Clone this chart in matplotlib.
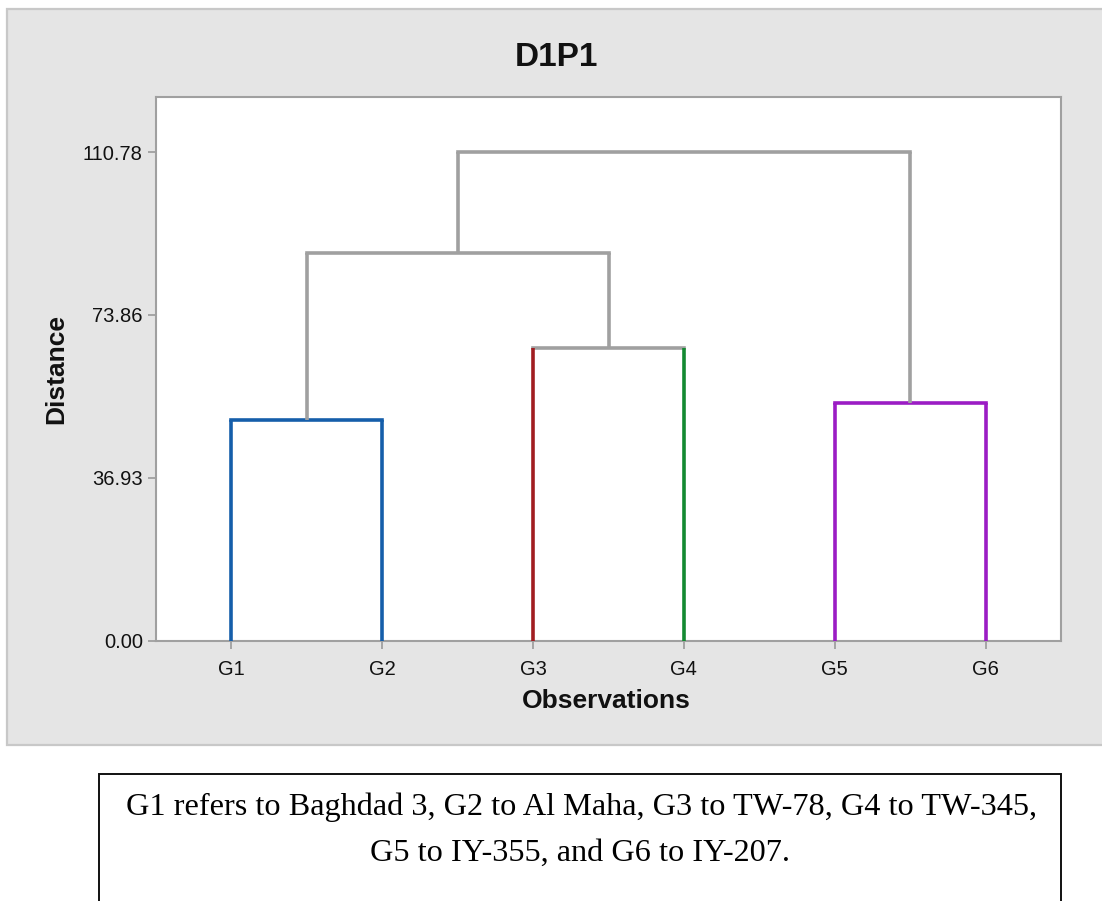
import matplotlib
matplotlib.use("Agg")
import matplotlib.pyplot as plt
from matplotlib.patches import Rectangle

# ---- data ----
leaves = ["G1", "G2", "G3", "G4", "G5", "G6"]
leaf_colors = ["#155eaa", "#155eaa", "#a11d21", "#148a32", "#9b1cc4", "#9b1cc4"]
# merges: (child_a, child_b, distance, colour of the link); nodes numbered like scipy linkage
merge_a = [0, 2, 4, 6, 9]
merge_b = [1, 3, 5, 7, 8]
merge_dist = [50.07, 66.38, 53.92, 87.91, 110.78]
merge_colors = ["#155eaa", "#a0a0a0", "#9b1cc4", "#a0a0a0", "#a0a0a0"]
yticks = [0.00, 36.93, 73.86, 110.78]
ytick_labels = ["0.00", "36.93", "73.86", "110.78"]
title = "D1P1"
caption = ["G1 refers to Baghdad 3, G2 to Al Maha, G3 to TW-78, G4 to TW-345,",
           "G5 to IY-355, and G6 to IY-207."]

W, H = 1102, 901
GRAY = "#a0a0a0"
fig = plt.figure(figsize=(W / 100, H / 100), dpi=100)
fig.patch.set_facecolor("white")

def fx(px):
    return px / W

def fy(py):
    return 1 - py / H

# grey panel
fig.patches.append(Rectangle((fx(7), fy(745)), fx(1110) - fx(7), fy(9) - fy(745),
                             transform=fig.transFigure, facecolor="#e5e5e5",
                             edgecolor="#c8c8c8", linewidth=1.6, zorder=-2))

ax = fig.add_axes([fx(156), fy(641), fx(1061) - fx(156), fy(97) - fy(641)])
ax.set_zorder(1)
ax.set_facecolor("white")

# positions and heights of nodes
n = len(leaves)
xpos = {i: i + 1 for i in range(n)}
hgt = {i: 0.0 for i in range(n)}
for k, (a, b, d) in enumerate(zip(merge_a, merge_b, merge_dist)):
    node = n + k
    xpos[node] = (xpos[a] + xpos[b]) / 2
    hgt[node] = d

lw = 2.6
for k, (a, b, d, c) in enumerate(zip(merge_a, merge_b, merge_dist, merge_colors)):
    for child in (a, b):
        leg_c = leaf_colors[child] if child < n else c
        ax.plot([xpos[child], xpos[child]], [hgt[child], d], color=leg_c, lw=lw,
                solid_capstyle="butt", zorder=3 if child < n else 2)
    ax.plot([xpos[a], xpos[b]], [d, d], color=c, lw=lw, solid_capstyle="projecting", zorder=2)

ax.set_xlim(0.5, n + 0.5)
ax.set_ylim(0, 123.25)
ax.set_xticks(range(1, n + 1))
ax.set_xticklabels(leaves)
ax.set_yticks(yticks)
ax.set_yticklabels(ytick_labels)
ax.tick_params(axis="both", length=5.5, width=1.3, color=GRAY, labelsize=14.5,
               labelcolor="#111111", direction="out")
ax.tick_params(axis="x", pad=8)
ax.tick_params(axis="y", pad=4)
for s in ax.spines.values():
    s.set_color(GRAY)
    s.set_linewidth(1.5)
for lab in ax.get_xticklabels() + ax.get_yticklabels():
    lab.set_fontfamily("Liberation Sans")

fig.text(fx(556), fy(58), title, ha="center", va="center", fontsize=24,
         fontweight="bold", family="Liberation Sans", color="#111111")
fig.text(fx(56), fy(369), "Distance", ha="center", va="center", rotation=90,
         fontsize=19, fontweight="bold", family="Liberation Sans", color="#111111")
fig.text(fx(606), fy(701), "Observations", ha="center", va="center",
         fontsize=19, fontweight="bold", family="Liberation Sans", color="#111111")

# caption box
fig.patches.append(Rectangle((fx(99), fy(920)), fx(1061) - fx(99), fy(774) - fy(920),
                             transform=fig.transFigure, facecolor="white",
                             edgecolor="#111111", linewidth=1.4, zorder=-1))
fig.text(fx(581), fy(815), caption[0], ha="center", va="baseline", fontsize=23.2,
         family="Liberation Serif", color="black")
fig.text(fx(580), fy(861), caption[1], ha="center", va="baseline", fontsize=23.2,
         family="Liberation Serif", color="black")

fig.savefig("out.png", dpi=100)
